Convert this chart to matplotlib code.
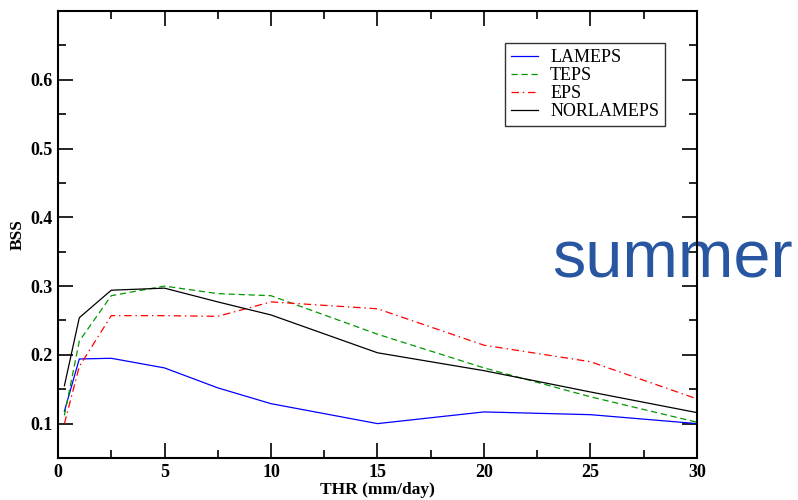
import numpy as np
import matplotlib
matplotlib.use("Agg")
from matplotlib import pyplot as plt
from matplotlib.ticker import MultipleLocator

# limiares (mm/dia)
thr = [0.3, 1, 2.5, 5, 7.5, 10, 15, 20, 25, 30]

# BSS de cada sistema
lameps = [0.118, 0.194, 0.195, 0.181, 0.152, 0.129, 0.100, 0.117, 0.113, 0.100]
teps = [0.112, 0.220, 0.286, 0.300, 0.289, 0.286, 0.230, 0.181, 0.139, 0.102]
eps = [0.100, 0.183, 0.257, 0.257, 0.256, 0.277, 0.267, 0.214, 0.190, 0.136]
norlameps = [0.155, 0.254, 0.294, 0.297, 0.277, 0.258, 0.203, 0.177, 0.146, 0.116]

xticks = [0, 5, 10, 15, 20, 25, 30]
yticks = [0.1, 0.2, 0.3, 0.4, 0.5, 0.6]

plt.rcParams['font.family'] = ['Liberation Serif', 'DejaVu Serif']

fig = plt.figure(figsize=(7.98, 5.0), dpi=100)
ax = fig.add_axes([58/798, 1 - 458/500, (697 - 58)/798, (458 - 11)/500])

ax.plot(thr, lameps, color='blue', lw=0.9, label='LAMEPS')
ax.plot(thr, teps, color='#009900', lw=0.9, dashes=(5, 3), label='TEPS')
ax.plot(thr, eps, color='red', lw=0.9, dashes=(6, 3, 1.2, 3), label='EPS')
ax.plot(thr, norlameps, color='black', lw=0.9, label='NORLAMEPS')

ax.set_xlim(0, 30)
ax.set_ylim(0.05, 0.7)
ax.set_xticks(xticks)
ax.set_yticks(yticks)
ax.set_xticklabels([str(v) for v in xticks], fontweight='bold', fontsize=13)
ax.set_yticklabels([str(v) for v in yticks], fontweight='bold', fontsize=13)
ax.xaxis.set_minor_locator(MultipleLocator(2.5))
ax.yaxis.set_minor_locator(MultipleLocator(0.05))
ax.tick_params(which='both', direction='in', top=True, right=True, width=1.2)
ax.tick_params(which='major', length=11, pad=4)
ax.tick_params(which='minor', length=6)
for s in ax.spines.values():
    s.set_linewidth(1.5)

ax.set_xlabel('THR (mm/day)', fontweight='bold', fontsize=12.5, labelpad=1)
ax.set_ylabel('BSS', fontweight='bold', fontsize=12.5, labelpad=3)

leg = ax.legend(loc='upper left', bbox_to_anchor=((505 - 58)/639, 1 - (43 - 11)/447),
                fontsize=13, frameon=True, fancybox=False, borderpad=0.35,
                labelspacing=0.05, handlelength=1.45, handletextpad=0.7,
                borderaxespad=0)
leg.get_frame().set_edgecolor('black')
leg.get_frame().set_linewidth(1.0)

# texto da estacao
ax.text(552/798, 1 - 277/500, 'summer', transform=fig.transFigure,
        family='Liberation Sans', fontsize=48, color='#2856a0',
        clip_on=False, zorder=1, va='baseline')

fig.savefig('out.png', dpi=100)
plt.close()
